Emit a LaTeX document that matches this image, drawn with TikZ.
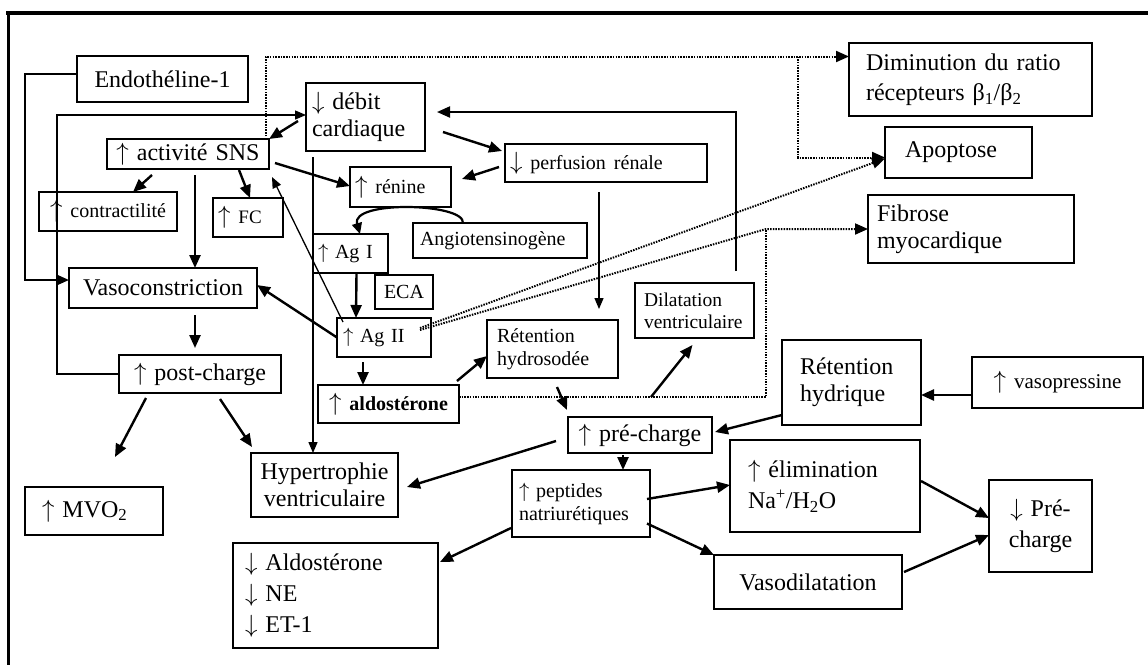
\documentclass[tikz,border=0pt]{standalone}
\usepackage{fontspec}
\setmainfont{Liberation Serif}
\usetikzlibrary{arrows.meta,calc}

% smaller text size used inside several boxes
\newcommand\sm{\fontsize{20}{23}\selectfont}
% increase / decrease arrows
\newcommand\up{\ensuremath{\uparrow}}
\newcommand\dn{\ensuremath{\downarrow}}
% \placebox{name}{x1}{y1}{x2}{y2}{padding}{options}{text}
\newcommand\placebox[8]{%
  \pgfmathsetmacro\bxw{#4-#2}%
  \pgfmathsetmacro\bxh{#5-#3}%
  \pgfmathsetmacro\bxt{#4-#2-2*#6}%
  \node[box,anchor=north west,minimum width=\bxw pt,minimum height=\bxh pt,
        inner xsep=#6pt,text width=\bxt pt,#7] (#1) at (#2,#3) {#8};}

\begin{document}
\begin{tikzpicture}[x=1pt,y=-1pt,
  box/.style={draw,line width=2pt,rectangle,inner ysep=0pt,outer sep=0pt,
              font=\fontsize{24}{27}\selectfont},
  arr/.style={line width=2.4pt,-{Triangle[length=13pt,width=11pt]}},
  midarr/.style={line width=2pt,-{Triangle[length=13pt,width=11pt]}},
  thinarr/.style={line width=1.3pt,-{Triangle[length=11pt,width=9pt]}},
  dots/.style={line width=2pt,dash pattern=on 1.5pt off 1.2pt},
  dotarr/.style={dots,-{Triangle[length=13pt,width=11pt]}}]

\useasboundingbox (0,0) rectangle (1148,665);

% outer frame (top and left edges)
\draw[line width=4pt] (6,13) -- (1148,13);
\draw[line width=3pt] (8,11) -- (8,665);

% boxes
\placebox{endo}{77}{56}{248}{102}{0}{align=center}{Endothéline-1}
\placebox{debit}{306}{83}{425}{151}{6}{align=left}{\dn{} débit\\cardiaque}
\placebox{sns}{107}{139}{269}{169}{0}{align=center}{\up{} activité SNS}
\placebox{contr}{39}{192}{177}{231}{0}{align=center}{\up{} {\sm contractilité}}
\placebox{fc}{213}{198}{283}{237}{5}{align=left}{\up{} {\fontsize{19}{22}\selectfont FC}}
\placebox{renine}{350}{167}{451}{207}{5}{align=left}{\up{} {\sm rénine}}
\placebox{perf}{505}{144}{707}{182}{5}{align=left}{\dn{} {\sm perfusion rénale}}
\placebox{angio}{413}{223}{587}{258}{7}{align=left,font=\sm}{Angiotensinogène}
\placebox{agI}{313}{234}{388}{273}{5}{align=left,font=\sm}{\up{} Ag I}
\placebox{eca}{375}{275}{433}{309}{0}{align=center,font=\sm}{ECA}
\placebox{agII}{337}{318}{431}{357}{6}{align=left,font=\sm}{\up{} Ag II}
\placebox{vaso}{69}{268}{257}{308}{0}{align=center}{Vasoconstriction}
\placebox{post}{119}{355}{281}{393}{0}{align=center}{\up{} post-charge}
\placebox{aldo}{318}{385}{459}{423}{0}{align=center}{\up{} {\sm\bfseries aldostérone}}
\placebox{rethyd}{487}{320}{618}{378}{10}{align=left,font=\sm}{Rétention\\hydrosodée}
\placebox{dilat}{635}{283}{754}{338}{9}{align=left,font={\fontsize{19.5}{22}\selectfont}}{Dilatation\\ventriculaire}
\placebox{pre}{568}{417}{712}{453}{0}{align=center}{\up{} pré-charge}
\placebox{pept}{512}{470}{650}{537}{7}{align=left,font=\sm}{\up{} peptides\\natriurétiques}
\placebox{hyp}{251}{453}{398}{517}{0}{align=center}{Hypertrophie\\ventriculaire}
\placebox{mvo}{25}{487}{163}{535}{17}{align=left}{\up{} MVO\textsubscript{2}}
\placebox{aldodown}{233}{543}{438}{648}{12}{align=left,font={\fontsize{24}{31}\selectfont}}{\dn{} Aldostérone\\\dn{} NE\\\dn{} ET-1}
\placebox{elim}{730}{440}{920}{532}{18}{align=left,font={\fontsize{24}{31}\selectfont}}{\up{} élimination\\Na\textsuperscript{+}/H\textsubscript{2}O}
\placebox{vasod}{714}{555}{902}{609}{0}{align=center}{Vasodilatation}
\placebox{prech}{989}{480}{1092}{572}{0}{align=center,font={\fontsize{24}{31}\selectfont}}{\dn{} Pré-\\charge}
\placebox{retH}{782}{340}{921}{425}{18}{align=left}{Rétention\\hydrique}
\placebox{vasop}{972}{357}{1143}{408}{0}{align=center}{\up{} {\fontsize{21}{24}\selectfont vasopressine}}
\placebox{dimin}{849}{43}{1092}{116}{17}{align=left,font={\fontsize{24}{30}\selectfont}}{Diminution du ratio\\récepteurs β\textsubscript{1}/β\textsubscript{2}}
\placebox{apop}{885}{127}{1032}{178}{20}{align=left}{Apoptose}
\placebox{fib}{868}{195}{1074}{263}{9}{align=left}{Fibrose\\myocardique}

% junction points on the dotted lines
\coordinate (dj) at ($(dimin.west)+(-51,-23)$);
\coordinate (jf) at ($(fib.west)+(-102,0)$);
\coordinate (dv) at ($(aldo.east)+(192,-7)$);

% elbow connectors
\draw[midarr] ($(endo.west)+(0,-5)$) -- ++(-52,0) |- ($(vaso.west)+(0,-8)$);
\draw[thinarr] (post.west) -- ++(-62,0) |- ($(debit.west)+(0,-2)$);
\draw[midarr] ($(dilat.north east)+(-18,-12)$) |- ($(debit.east)+(12,-5)$);

% dotted connectors
\draw[dotarr] ($(sns.north east)+(-3,0)$) |- ($(dimin.west)+(0,-23)$);
\draw[dotarr] (dj) |- ($(apop.west)+(0,5)$);
\draw[dotarr] ($(agII.north east)+(-11,10)$) -- ($(apop.west)+(0,6)$);
\draw[dotarr] ($(agII.north east)+(-11,12)$) -- (jf) -- (fib.west);
\draw[dots] ($(aldo.east)+(0,-7)$) -| (jf);

% straight connectors
\draw[arr] ($(debit.west)+(-8,4)$) -- (sns.north east);
\draw[arr] ($(sns.south west)+(45,6)$) -- ($(contr.north)+(25,0)$);
\draw[arr] ($(sns.south west)+(88,6)$) -- ($(vaso.north)+(32,0)$);
\draw[arr] ($(sns.south west)+(132,1)$) -- ($(fc.north)+(2,0)$);
\draw[thinarr] ($(agII.north west)+(6,4)$) -- ($(sns.south east)+(3,8)$);
\draw[arr] ($(sns.east)+(6,9)$) -- ($(renine.west)+(0,-1)$);
\draw[arr] ($(debit.east)+(18,15)$) -- ($(perf.west)+(-3,-12)$);
\draw[arr] ($(perf.west)+(-6,4)$) -- ($(renine.east)+(11,-8)$);
\draw[thinarr] ($(debit.south west)+(7,6)$) -- ($(hyp.north west)+(62,0)$);
\draw[line width=2.2pt,-{Triangle[length=11pt,width=10pt]}]
  ($(angio.north west)+(50,0)$) .. controls (465,203) and (350,200) .. ($(agI.north west)+(47,0)$);
\draw[arr] ($(agI.south)+(6,0)$) -- ($(agII.north west)+(19,0)$);
\draw[arr] (agII.west) -- ($(vaso.east)+(0,-3)$);
\draw[arr] ($(agII.south west)+(26,5)$) -- ($(aldo.north west)+(45,0)$);
\draw[arr] ($(aldo.north east)+(-2,-4)$) -- ($(rethyd.west)+(0,7)$);
\draw[thinarr] ($(perf.south)+(-7,10)$) -- ($(rethyd.north east)+(-19,-11)$);
\draw[arr] ($(rethyd.south)+(4.5,9)$) -- ($(pre.north west)+(-1,-7)$);
\draw[arr] (dv) -- ($(dilat.south)+(-2,7)$);
\draw[arr] ($(retH.south west)+(0,-10)$) -- ($(pre.east)+(3,-3)$);
\draw[arr] ($(vasop.west)+(0,12.5)$) -- ($(retH.east)+(0,12.5)$);
\draw[arr] ($(pre.west)+(-12,6)$) -- ($(hyp.east)+(9,2)$);
\draw[arr] ($(pre.south)+(-17,2)$) -- ($(pept.north)+(42,0)$);
\draw[arr] ($(pept.east)+(-3,-4.5)$) -- ($(elim.west)+(0,-1)$);
\draw[arr] ($(pept.east)+(-3,20)$) -- (vasod.north west);
\draw[arr] ($(pept.south west)+(-1,-9)$) -- ($(aldodown.north east)+(2,19)$);
\draw[arr] ($(elim.east)+(1,-5)$) -- ($(prech.west)+(0,-8)$);
\draw[arr] ($(vasod.east)+(2,-10)$) -- ($(prech.west)+(0,9)$);
\draw[arr] ($(post.south west)+(27,5)$) -- ($(mvo.north)+(21,-30)$);
\draw[arr] ($(post.south west)+(101,6)$) -- ($(hyp.north west)+(1,-6)$);
\draw[arr] ($(vaso.south)+(32,7)$) -- ($(post.north west)+(76,-7)$);

\end{tikzpicture}
\end{document}
